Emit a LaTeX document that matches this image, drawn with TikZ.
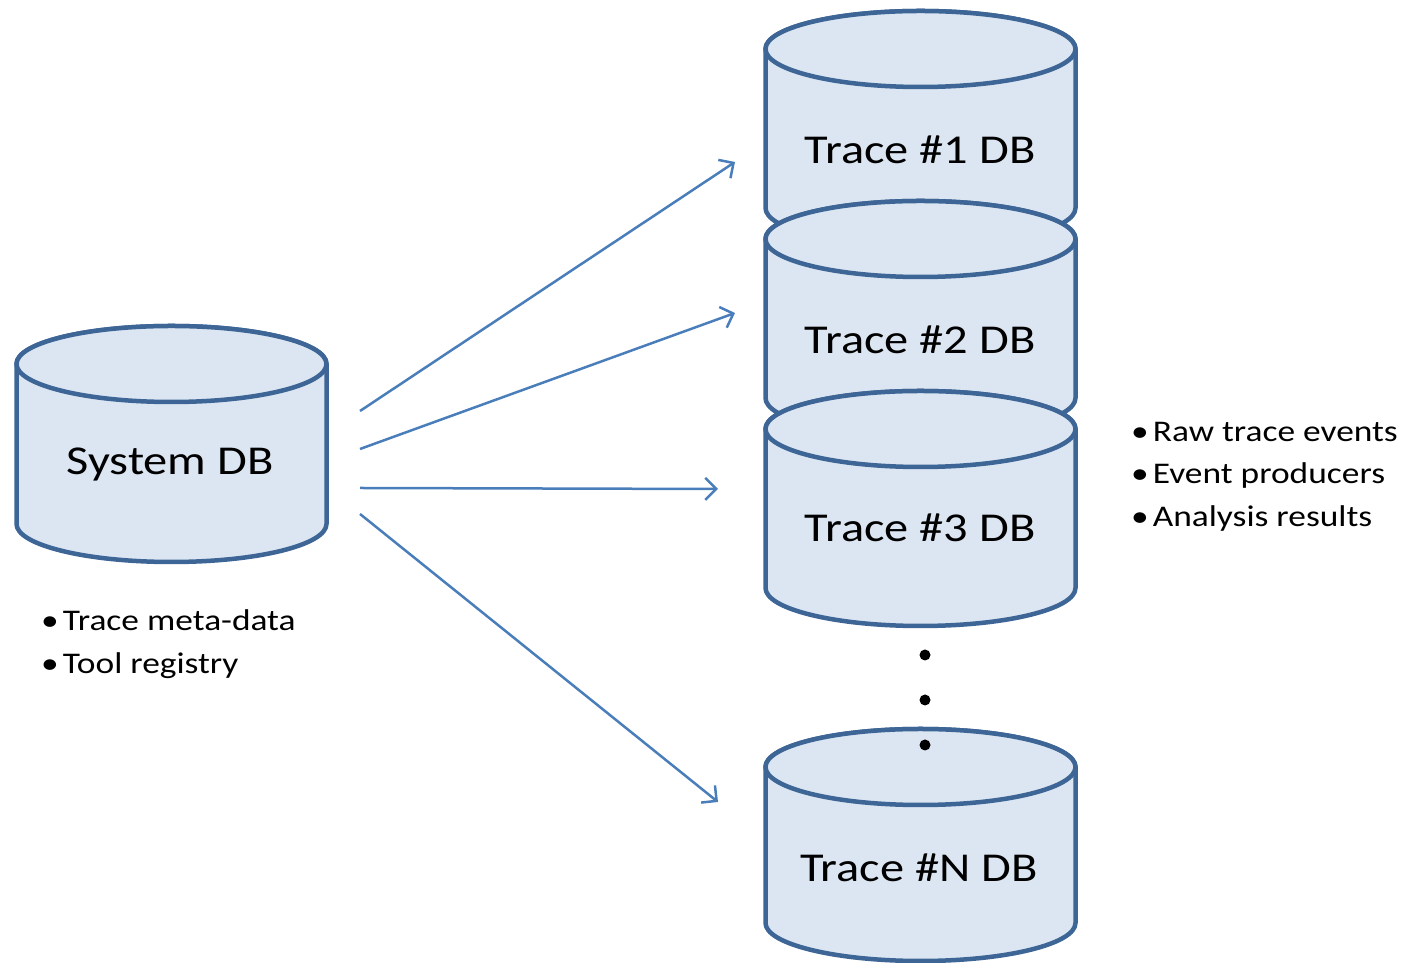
\documentclass[tikz,border=0pt]{standalone}
\usepackage{fontspec}
\setmainfont{Carlito}[FakeStretch=1.18]
\usetikzlibrary{arrows.meta}
\definecolor{cylfill}{HTML}{DCE6F2}
\definecolor{cylline}{HTML}{3D6596}
\definecolor{arrowcol}{HTML}{4A7EBB}
\tikzset{
  cyl/.style={fill=cylfill, draw=cylline, line width=4.5pt, line join=round},
  dblabel/.style={font=\fontsize{41}{49}\selectfont, text=black, inner sep=0pt},
  bullettext/.style={font=\fontsize{30}{36}\selectfont, text=black, anchor=base west, inner sep=0pt},
  link/.style={draw=arrowcol, line width=2.5pt, -{Straight Barb[length=11pt,width=22pt]}},
  dotmark/.style={circle, fill=black, inner sep=0pt, minimum size=11pt}
}
\newcommand\dbcylinder[3]{% cx, top centre y, bottom centre y
  \path[cyl] (#1-155,#2) -- (#1-155,#3)
    arc[start angle=180, end angle=360, x radius=155, y radius=38]
    -- (#1+155,#2)
    arc[start angle=0, end angle=180, x radius=155, y radius=38] -- cycle;
  \path[cyl] (#1,#2) ellipse[x radius=155, y radius=38];
}
\begin{document}
\begin{tikzpicture}[x=1pt,y=1pt]
\useasboundingbox (0,0) rectangle (1409,963);
% cylinders
\dbcylinder{171.5}{599}{439}
\dbcylinder{920.5}{914}{755}
\dbcylinder{920.5}{724}{565}
\dbcylinder{920.5}{534}{375}
\dbcylinder{920.5}{196}{40}
% labels
\node[dblabel] (sys) at (170,498) {System DB};
\node[dblabel] (t1) at (920,813) {Trace \#1 DB};
\node[dblabel] (t2) at (920,623) {Trace \#2 DB};
\node[dblabel] (t3) at (920,435) {Trace \#3 DB};
\node[dblabel] (tn) at (919,95) {Trace \#N DB};
% dots
\node[dotmark] (d1) at (925,308) {};
\node[dotmark] (d2) at (925,263) {};
\node[dotmark] (d3) at (925,218) {};
% arrow endpoints
\coordinate (s1) at (360,552);
\coordinate (s2) at (360,514);
\coordinate (s3) at (360,475);
\coordinate (s4) at (360,449);
\coordinate (e1) at (735,801);
\coordinate (e2) at (735,650);
\coordinate (e3) at (718,474);
\coordinate (e4) at (718,161);
\draw[link] (s1) -- (e1);
\draw[link] (s2) -- (e2);
\draw[link] (s3) -- (e3);
\draw[link] (s4) -- (e4);
% bullet lists
\node[bullettext] (r1) at (1131,521) {•\hspace{4pt}Raw trace events};
\node[bullettext] (r2) at (1131,479) {•\hspace{4pt}Event producers};
\node[bullettext] (r3) at (1131,436) {•\hspace{4pt}Analysis results};
\node[bullettext] (l1) at (41,332) {•\hspace{4pt}Trace meta-data};
\node[bullettext] (l2) at (41,289) {•\hspace{4pt}Tool registry};
\end{tikzpicture}
\end{document}
